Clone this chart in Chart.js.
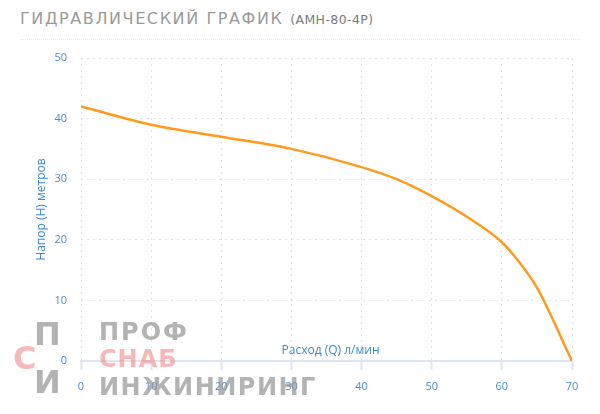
<!DOCTYPE html>
<html lang="ru">
<head>
<meta charset="utf-8">
<title>Гидравлический график</title>
<script src="https://cdn.jsdelivr.net/npm/chart.js@4.4.1/dist/chart.umd.min.js"></script>
<style>
  html, body { margin: 0; padding: 0; background: #fff; }
  .wrap { position: relative; width: 600px; height: 414px; overflow: hidden; }
  .title {
    position: absolute; left: 20px; top: 8px; width: 560px; height: 31px;
    border-bottom: 1px dotted #e8e8e8;
    font-family: "DejaVu Sans", sans-serif; font-weight: normal;
    font-size: 16px; color: #9a9a9a; letter-spacing: 1.6px; white-space: nowrap; line-height: 22px;
  }
  .title small { font-size: 12.5px; color: #7a7a7a; letter-spacing: 0.4px; }
  canvas { position: absolute; left: 0; top: 0; }
  .mark { position: absolute; font-family: "DejaVu Sans", sans-serif; font-weight: bold; line-height: 1; pointer-events: none; }
  .grey { color: rgba(150, 150, 150, 0.72); }
  .pink { color: rgba(240, 140, 140, 0.62); }
</style>
</head>
<body>
<div class="wrap">
  <div class="title">ГИДРАВЛИЧЕСКИЙ ГРАФИК <small>(АМН-80-4Р)</small></div>
  <canvas id="pumpChart" width="600" height="414"></canvas>
  <!-- watermark -->
  <div class="mark grey" style="left:34px;top:318px;font-size:32px;">П</div>
  <div class="mark pink" style="left:13px;top:342px;font-size:32px;">С</div>
  <div class="mark grey" style="left:34px;top:366px;font-size:32px;">И</div>
  <div class="mark grey" style="left:99px;top:320px;font-size:24px;letter-spacing:2px;">ПРОФ</div>
  <div class="mark pink" style="left:99px;top:347px;font-size:24px;letter-spacing:1px;">СНАБ</div>
  <div class="mark grey" style="left:99px;top:375px;font-size:24px;letter-spacing:1.5px;">ИНЖИНИРИНГ</div>
</div>
<script>
// расход, л/мин
const flowValues = [0, 10, 20, 30, 40, 45, 50, 55, 60, 62, 65, 70]
// напор, м
const headValues = [42, 39, 37, 35, 32, 30, 27.2, 23.8, 19.6, 17.0, 12.1, 0]

const xTicks = [0, 10, 20, 30, 40, 50, 60, 70]
const yTicks = [0, 10, 20, 30, 40, 50]

const xTitle = 'Расход (Q) л/мин'
const yTitle = 'Напор (H) метров'

const tickBlue = '#4a8fcf'
const titleBlue = '#3b8dd0'

// x axis title sits inside the plot, just above the axis line
const xTitlePlugin = {
  id: 'xTitleInside',
  afterDraw(chart) {
    const { ctx, chartArea } = chart
    ctx.save()
    ctx.font = '12px "Open Sans"'
    ctx.fillStyle = titleBlue
    ctx.textAlign = 'center'
    ctx.textBaseline = 'middle'
    ctx.fillText(xTitle, (chartArea.left + chartArea.right) / 2 + 4, chartArea.bottom - 10)
    ctx.restore()
  }
}

const ctx = document.getElementById('pumpChart').getContext('2d')

new Chart(ctx, {
  type: 'line',
  data: {
    datasets: [{
      data: flowValues.map((q, i) => ({ x: q, y: headValues[i] })),
      borderColor: '#ff9a1f',
      borderWidth: 2.5,
      pointRadius: 0,
      fill: false,
      cubicInterpolationMode: 'monotone'
    }]
  },
  options: {
    responsive: false,
    animation: false,
    layout: {
      padding: { top: 58, right: 28, left: 0, bottom: 0 }
    },
    plugins: {
      legend: { display: false },
      tooltip: { enabled: false }
    },
    scales: {
      x: {
        type: 'linear',
        min: 0,
        max: 70,
        afterBuildTicks: scale => { scale.ticks = xTicks.map(v => ({ value: v })) },
        afterFit: scale => { scale.height = 53 },
        grid: {
          color: '#e2e2e2',
          lineWidth: 1,
          tickColor: '#dfe4f2',
          tickLength: 9,
          tickWidth: 2
        },
        border: { display: true, color: '#dfe4f2', width: 2, dash: [2, 4] },
        ticks: {
          color: tickBlue,
          font: { family: 'Open Sans', size: 11 },
          padding: 10,
          maxRotation: 0
        }
      },
      y: {
        min: 0,
        max: 50,
        afterBuildTicks: scale => { scale.ticks = yTicks.map(v => ({ value: v })) },
        afterFit: scale => { scale.width = 81 },
        grid: {
          color: '#e2e2e2',
          lineWidth: 1,
          drawTicks: false
        },
        border: { display: false, dash: [2, 4] },
        ticks: {
          color: tickBlue,
          font: { family: 'Open Sans', size: 11 },
          padding: 14
        },
        title: {
          display: true,
          text: yTitle,
          color: titleBlue,
          font: { family: 'Open Sans', size: 12 },
          padding: { top: 34, bottom: 0 }
        }
      }
    }
  },
  plugins: [xTitlePlugin]
})
</script>
</body>
</html>
